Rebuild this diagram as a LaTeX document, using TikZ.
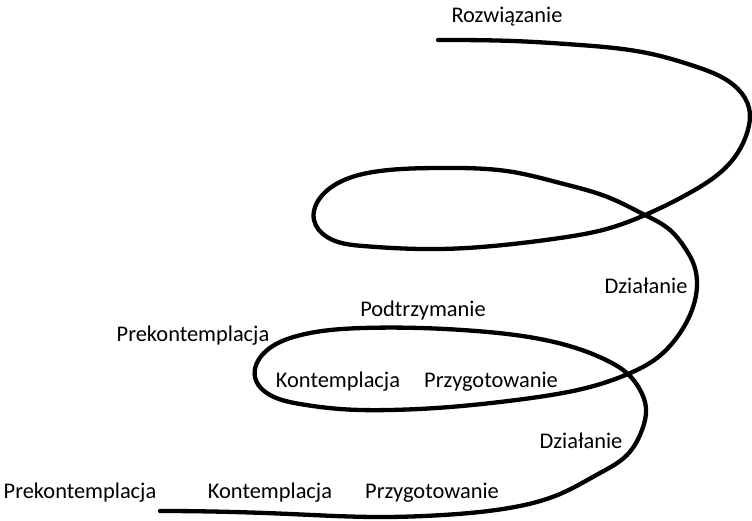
\documentclass[tikz,border=0pt]{standalone}
\usepackage{fontspec}
\setmainfont{Carlito}
\usetikzlibrary{hobby}
\begin{document}
\begin{tikzpicture}[x=1pt,y=-1pt,
  lbl/.style={font=\fontsize{22.4}{25}\selectfont, inner sep=0pt, anchor=center},
  spiral/.style={line width=4.3pt, line cap=round, line join=round}]
\useasboundingbox (0,0) rectangle (752,521);
\draw[spiral, use Hobby shortcut]
 ([out angle=0]160,511) .. (290,514) .. (376,517) .. (443,515) .. (509,508) .. (560,494) .. (600,473) .. (627,455) .. (642,430) .. (646,408) .. (639,388) .. (628,374) .. (610,362) .. (590,353) .. (540,339) .. (476,331) .. (420,328) .. (363,328) .. (297,336) .. (264,353) .. (255,377) .. (270,395) .. (300,404) .. (340,409) .. (390,410) .. (450,407) .. (500,402) .. (545,396) .. (590,387) .. (628,374) .. (657,358) .. (680,333) .. (692,310) .. (697,285) .. (694,265) .. (685,248) .. (670,230) .. (645,215) .. (610,198) .. (560,183) .. (513,172) .. (440,168) .. (380,171) .. (342,181) .. (320,198) .. (314,220) .. (327,237) .. (363,246) .. (440,249) .. (513,244) .. (560,238) .. (610,228) .. (645,215) .. (693,191) .. (730,163) .. (747,133) .. (749,108) .. (738,89) .. (697,67) .. (647,53) .. (580,45) .. (513,41) .. ([in angle=0]438,40);
\node[lbl] (rozw) at (507,17) {Rozwiązanie};
\node[lbl] (dzial1) at (646,286) {Działanie};
\node[lbl] (podt) at (423,311) {Podtrzymanie};
\node[lbl] (prek1) at (193,336) {Prekontemplacja};
\node[lbl] (kont1) at (338,382) {Kontemplacja};
\node[lbl] (przy1) at (491,382) {Przygotowanie};
\node[lbl] (dzial2) at (581,441) {Działanie};
\node[lbl] (prek2) at (80,493) {Prekontemplacja};
\node[lbl] (kont2) at (270,493) {Kontemplacja};
\node[lbl] (przy2) at (432,493) {Przygotowanie};
\end{tikzpicture}
\end{document}
